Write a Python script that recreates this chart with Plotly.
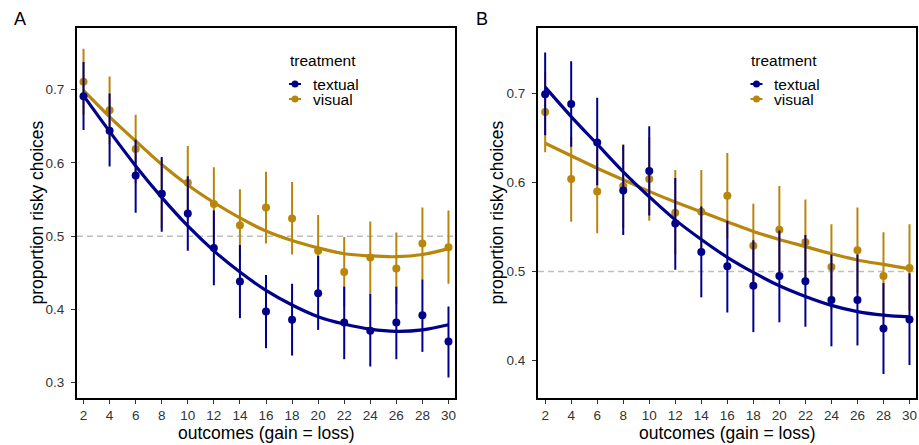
import plotly.graph_objects as go

# Outcome magnitudes (gain = loss)
outcomes = [2, 4, 6, 8, 10, 12, 14, 16, 18, 20, 22, 24, 26, 28, 30]

# Panel A: observed proportions with 95% intervals
a_textual = [0.691, 0.644, 0.583, 0.558, 0.531, 0.484, 0.438, 0.397, 0.386, 0.422, 0.382, 0.371, 0.382, 0.392, 0.356]
a_textual_lo = [0.645, 0.595, 0.532, 0.506, 0.480, 0.433, 0.388, 0.347, 0.337, 0.372, 0.332, 0.322, 0.332, 0.342, 0.307]
a_textual_hi = [0.738, 0.695, 0.632, 0.608, 0.582, 0.535, 0.488, 0.447, 0.435, 0.473, 0.431, 0.421, 0.431, 0.441, 0.404]
a_visual = [0.711, 0.672, 0.619, 0.558, 0.573, 0.544, 0.515, 0.539, 0.524, 0.480, 0.451, 0.471, 0.456, 0.490, 0.485]
a_visual_lo = [0.666, 0.626, 0.572, 0.511, 0.523, 0.494, 0.466, 0.490, 0.475, 0.431, 0.403, 0.421, 0.407, 0.441, 0.435]
a_visual_hi = [0.756, 0.718, 0.666, 0.605, 0.623, 0.594, 0.564, 0.588, 0.574, 0.529, 0.499, 0.520, 0.505, 0.539, 0.535]
# Panel A: quadratic model fits
a_textual_fit = [0.692, 0.643, 0.596, 0.553, 0.514, 0.480, 0.451, 0.426, 0.406, 0.390, 0.380, 0.373, 0.370, 0.372, 0.379]
a_visual_fit = [0.699, 0.663, 0.630, 0.598, 0.570, 0.546, 0.525, 0.507, 0.494, 0.484, 0.476, 0.473, 0.472, 0.475, 0.483]

# Panel B: observed proportions with 95% intervals
b_textual = [0.699, 0.688, 0.645, 0.591, 0.613, 0.554, 0.522, 0.506, 0.484, 0.495, 0.489, 0.468, 0.468, 0.436, 0.446]
b_textual_lo = [0.653, 0.640, 0.597, 0.541, 0.563, 0.502, 0.471, 0.454, 0.432, 0.443, 0.438, 0.416, 0.417, 0.385, 0.395]
b_textual_hi = [0.746, 0.736, 0.695, 0.642, 0.663, 0.605, 0.573, 0.557, 0.535, 0.546, 0.541, 0.519, 0.519, 0.487, 0.498]
b_visual = [0.679, 0.604, 0.590, 0.596, 0.604, 0.566, 0.567, 0.585, 0.529, 0.547, 0.533, 0.505, 0.524, 0.495, 0.504]
b_visual_lo = [0.634, 0.556, 0.543, 0.549, 0.557, 0.519, 0.520, 0.537, 0.482, 0.498, 0.485, 0.457, 0.476, 0.446, 0.456]
b_visual_hi = [0.724, 0.651, 0.638, 0.643, 0.651, 0.614, 0.614, 0.633, 0.576, 0.596, 0.581, 0.553, 0.572, 0.544, 0.553]
# Panel B: quadratic model fits
b_textual_fit = [0.707, 0.674, 0.643, 0.612, 0.584, 0.558, 0.536, 0.516, 0.499, 0.484, 0.472, 0.462, 0.455, 0.451, 0.449]
b_visual_fit = [0.644, 0.630, 0.616, 0.603, 0.590, 0.578, 0.567, 0.556, 0.545, 0.536, 0.528, 0.520, 0.513, 0.508, 0.503]

y_ticks_a = [0.3, 0.4, 0.5, 0.6, 0.7]
y_ticks_b = [0.4, 0.5, 0.6, 0.7]

treatments = ["textual", "visual"]
colors = {"textual": "#00008B", "visual": "#B8860B"}

W, H = 919, 445
FONT = "Liberation Sans, Arial, sans-serif"


def px(x):
    return x / W


def py(y):
    return 1 - y / H


fig = go.Figure()

panels = [
    ("x", "y", {
        "visual": (a_visual, a_visual_lo, a_visual_hi, a_visual_fit),
        "textual": (a_textual, a_textual_lo, a_textual_hi, a_textual_fit),
    }),
    ("x2", "y2", {
        "visual": (b_visual, b_visual_lo, b_visual_hi, b_visual_fit),
        "textual": (b_textual, b_textual_lo, b_textual_hi, b_textual_fit),
    }),
]

for xa, ya, series in panels:
    # draw visual first so textual sits on top
    for name in ["visual", "textual"]:
        mean, lo, hi, fit = series[name]
        c = colors[name]
        fig.add_trace(go.Scatter(
            x=outcomes, y=fit, xaxis=xa, yaxis=ya, mode="lines",
            line=dict(color=c, width=3.2, shape="spline", smoothing=1.0),
            showlegend=False, hoverinfo="skip",
        ))
        fig.add_trace(go.Scatter(
            x=outcomes, y=mean, xaxis=xa, yaxis=ya, mode="markers",
            marker=dict(color=c, size=8),
            error_y=dict(type="data", symmetric=False,
                         array=[h - m for h, m in zip(hi, mean)],
                         arrayminus=[m - l for m, l in zip(mean, lo)],
                         color=c, thickness=2, width=0),
            name=name, showlegend=False,
        ))

axis_common = dict(
    showline=True, linecolor="black", linewidth=2, mirror=True,
    showgrid=False, zeroline=False,
    ticks="outside", ticklen=4, tickwidth=1.2, tickcolor="#333333",
    tickfont=dict(family=FONT, size=13.5, color="#333333"),
)

y_dom = [py(398), py(27.5)]

fig.update_layout(
    width=W, height=H,
    margin=dict(l=0, r=0, t=0, b=0),
    paper_bgcolor="white", plot_bgcolor="white",
    font=dict(family=FONT, color="black"),
    xaxis=dict(domain=[px(77), px(455)], range=[1.5, 30.5], tickvals=outcomes,
               anchor="y", **axis_common),
    yaxis=dict(domain=y_dom, range=[0.279, 0.785], tickvals=y_ticks_a,
               tickformat=".1f", anchor="x", ticklabelstandoff=4, **axis_common),
    xaxis2=dict(domain=[px(538), px(916)], range=[1.45, 30.5], tickvals=outcomes,
                anchor="y2", **axis_common),
    yaxis2=dict(domain=y_dom, range=[0.358, 0.774], tickvals=y_ticks_b,
                tickformat=".1f", anchor="x2", ticklabelstandoff=4, **axis_common),
    showlegend=False,
)

shapes = []
annotations = []

# reference line at 0.5 in each panel
for xa, ya in [("x", "y"), ("x2", "y2")]:
    shapes.append(dict(type="line", xref=f"{xa} domain", yref=ya,
                       x0=0, x1=1, y0=0.5, y1=0.5,
                       line=dict(color="#BEBEBE", width=1.5, dash="6px,4px"),
                       layer="below"))

# panel letters, axis titles
for letter, lx, xt_c, yt_x in [("A", 12, 266, 37), ("B", 474, 727, 497)]:
    annotations.append(dict(text=letter, x=px(lx), y=py(19), xref="paper", yref="paper",
                            xanchor="left", yanchor="middle", showarrow=False,
                            font=dict(family=FONT, size=18, color="black")))
    annotations.append(dict(text="outcomes (gain = loss)", x=px(xt_c), y=py(432.5),
                            xref="paper", yref="paper", xanchor="center", yanchor="middle",
                            showarrow=False, font=dict(family=FONT, size=17.5, color="black")))
    annotations.append(dict(text="proportion risky choices", x=px(yt_x), y=py(212.5),
                            xref="paper", yref="paper", xanchor="center", yanchor="middle",
                            textangle=-90, showarrow=False,
                            font=dict(family=FONT, size=17.5, color="black")))

# legend block for each panel
for title_x, dot_x, text_x in [(288, 295, 311), (749, 756.5, 772)]:
    annotations.append(dict(text="treatment", x=px(title_x), y=py(60), xref="paper",
                            yref="paper", xanchor="left", yanchor="middle", showarrow=False,
                            font=dict(family=FONT, size=15.5, color="black")))
    for name, ky in zip(treatments, [84, 99]):
        c = colors[name]
        shapes.append(dict(type="line", xref="paper", yref="paper",
                           x0=px(dot_x - 6), x1=px(dot_x + 6), y0=py(ky), y1=py(ky),
                           line=dict(color=c, width=2)))
        shapes.append(dict(type="circle", xref="paper", yref="paper",
                           x0=px(dot_x - 3.5), x1=px(dot_x + 3.5),
                           y0=py(ky + 3.5), y1=py(ky - 3.5),
                           fillcolor=c, line=dict(color=c, width=0)))
        annotations.append(dict(text=name, x=px(text_x), y=py(ky), xref="paper",
                                yref="paper", xanchor="left", yanchor="middle",
                                showarrow=False,
                                font=dict(family=FONT, size=15.5, color="black")))

fig.update_layout(shapes=shapes, annotations=annotations)

fig.write_html("out.html")
